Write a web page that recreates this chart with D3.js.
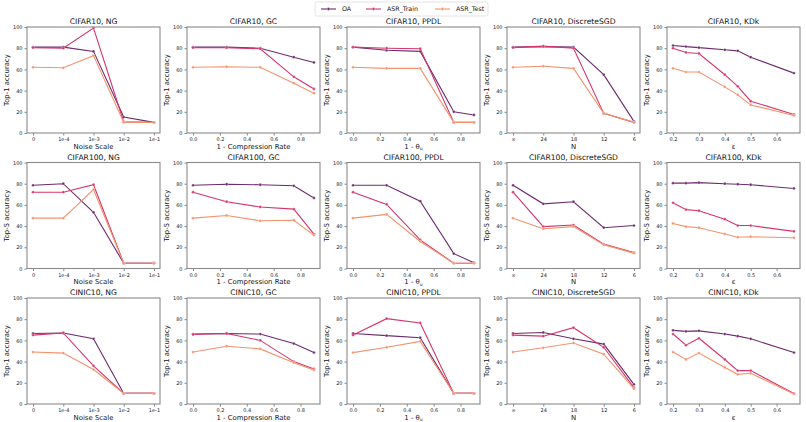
<!DOCTYPE html>
<html><head><meta charset="utf-8">
<script src="https://cdn.jsdelivr.net/npm/d3@7"></script>
<style>body{margin:0;background:#fff} text{font-family:"DejaVu Sans",sans-serif}</style>
</head><body><svg id="c" width="806" height="422"></svg>
<script>
// ---- data ----
const datasets = ["CIFAR10", "CIFAR100", "CINIC10"];
const methods = ["NG", "GC", "PPDL", "DiscreteSGD", "KDk"];
const yLabels = ["Top-1 accuracy", "Top-5 accuracy", "Top-1 accuracy"];
const xLabels = ["Noise Scale", "1 - Compression Rate", "1 - θ|u", "N", "ε"];
const seriesNames = ["OA", "ASR_Train", "ASR_Test"];
const seriesColors = ["#6b2b6c", "#d6346b", "#f4926d"];

const ngX = ["0", "1e-4", "1e-3", "1e-2", "1e-1"];
const gcX = [0, 0.25, 0.5, 0.75, 0.9];
const ppdlX = [0, 0.25, 0.5, 0.75, 0.9];
const sgdX = ["∞", "24", "18", "12", "6"];
const kdkX = [0.2, 0.25, 0.3, 0.4, 0.45, 0.5, 0.667];
const rateTicks = [0, 0.2, 0.4, 0.6, 0.8];
const epsTicks = [0.2, 0.3, 0.4, 0.5, 0.6];
const yTicks = [0, 20, 40, 60, 80, 100];

// per dataset, per method (NG, GC, PPDL, DiscreteSGD, KDk)
const cifar10_OA = [[81, 81, 77, 15, 10], [81, 81, 80, 71.5, 66.5], [81, 78, 77, 20, 17], [81, 81.5, 81, 55, 11], [82.5, 81.5, 80.5, 78.5, 77.5, 71.5, 56.5]];
const cifar10_Train = [[80.5, 80, 99, 10.5, 10], [80.5, 80.5, 79.5, 53, 41.5], [81, 80, 79.5, 10, 10], [80.5, 82, 80, 18.5, 10], [80, 76, 75, 55, 44, 30, 17.5]];
const cifar10_Test = [[62, 61.5, 73, 10, 10], [62, 62.5, 62, 47, 37.5], [62, 61, 61, 10, 10], [62, 63, 61, 18.5, 10], [61, 57.5, 57.5, 43.5, 36, 26.5, 16.5]];

const cifar100_OA = [[78.5, 80, 53, 5, 5], [78.5, 79.5, 79, 78, 66.5], [78.5, 78.5, 63.5, 14, 5.5], [78.5, 61, 63, 38.5, 40.5], [80.5, 80.5, 81, 80, 79.5, 79, 75.5]];
const cifar100_Train = [[72, 72, 79, 5, 5], [72, 63, 58, 56, 32.5], [72, 60.5, 27, 5, 5], [72, 39.5, 41, 23, 15], [62, 55.5, 54.5, 46.5, 40.5, 40.5, 35]];
const cifar100_Test = [[47.5, 47.5, 74.5, 5, 5], [47.5, 50, 45, 45.5, 31.5], [47.5, 51, 25.5, 5, 5], [47.5, 37.5, 39.5, 22.5, 14.5], [42.5, 39.5, 38.5, 32.5, 29.5, 30, 29]];

const cinic10_OA = [[66.5, 67, 61.5, 10, 10], [66, 66.5, 66, 57, 48.5], [66.5, 64.5, 62.5, 10, 10], [66.5, 67.5, 61.5, 56.5, 18.5], [69.5, 68.5, 69, 66, 64, 61.5, 48.5]];
const cinic10_Train = [[65, 67, 36, 10, 10], [65.5, 66.5, 60, 40, 33], [65, 80.5, 76.5, 10, 10], [65, 64, 72, 53.5, 15.5], [66, 55.5, 62, 42, 31.5, 31.5, 10]];
const cinic10_Test = [[49, 48, 32.5, 10, 10], [49, 54.5, 52, 39, 32], [48.5, 53.5, 59, 10, 10], [49, 53, 57.5, 47, 14.5], [49, 42, 48, 34.5, 28, 29, 9.5]];

const allSeries = [
  [cifar10_OA, cifar10_Train, cifar10_Test],
  [cifar100_OA, cifar100_Train, cifar100_Test],
  [cinic10_OA, cinic10_Train, cinic10_Test]
];
const xValues = [ngX, gcX, ppdlX, sgdX, kdkX];
const xTickSets = [ngX, rateTicks, rateTicks, sgdX, epsTicks];

// ---- layout ----
const svg = d3.select("#c");
const W = 133, H = 106;
const colLeft = d3.range(5).map(i => 27 + 160 * i);
const rowTop = d3.range(3).map(j => 27 + 135.5 * j);
const frameColor = "#8a8a8a", tickColor = "#555";

datasets.forEach((ds, r) => {
  methods.forEach((m, c) => {
    const g = svg.append("g").attr("transform", `translate(${colLeft[c]},${rowTop[r]})`);
    const xs = xValues[c];
    const categorical = typeof xs[0] === "string";
    let x;
    if (categorical) {
      x = d3.scalePoint().domain(xs).range([0, W]).padding(0.2);
    } else {
      const [lo, hi] = d3.extent(xs); const pad = (hi - lo) * 0.05;
      x = d3.scaleLinear().domain([lo - pad, hi + pad]).range([0, W]);
    }
    const y = d3.scaleLinear().domain([0, 100]).range([H, 0]);

    // axes
    const xAxis = d3.axisBottom(x).tickSizeOuter(0).tickSize(2.5).tickPadding(2);
    if (categorical) xAxis.tickValues(xs); else xAxis.tickValues(xTickSets[c]).tickFormat(d3.format(".1f"));
    const gx = g.append("g").attr("transform", `translate(0,${H})`).call(xAxis);
    const gy = g.append("g").call(d3.axisLeft(y).tickValues(yTicks).tickSize(2.5).tickPadding(2).tickSizeOuter(0));
    [gx, gy].forEach(a => {
      a.select(".domain").remove();
      a.selectAll("line").attr("stroke", tickColor).attr("stroke-width", 0.7);
      a.selectAll("text").attr("font-size", 5).attr("fill", "#222").attr("font-family", "DejaVu Sans");
    });

    // lines
    allSeries[r].forEach((ser, s) => {
      const vals = ser[c];
      const pts = xs.map((xv, i) => [x(xv), y(vals[i])]);
      g.append("path").attr("d", d3.line()(pts)).attr("fill", "none")
        .attr("stroke", seriesColors[s]).attr("stroke-width", 1.1);
      g.selectAll(null).data(pts).enter().append("circle")
        .attr("cx", d => d[0]).attr("cy", d => d[1]).attr("r", 1.4)
        .attr("fill", seriesColors[s]).attr("stroke", "#fff").attr("stroke-width", 0.3);
    });

    // frame
    g.append("rect").attr("width", W).attr("height", H).attr("fill", "none")
      .attr("stroke", frameColor).attr("stroke-width", 1.1);

    // title
    g.append("text").attr("x", W / 2).attr("y", -3).attr("text-anchor", "middle")
      .attr("font-size", 7.6).attr("fill", "#111").text(`${ds}, ${m}`);
    // x label
    const xl = g.append("text").attr("x", W / 2).attr("y", H + 15.5).attr("text-anchor", "middle")
      .attr("font-size", 6.9).attr("fill", "#111");
    const parts = xLabels[c].split("|");
    xl.append("tspan").text(parts[0]);
    if (parts[1]) xl.append("tspan").attr("font-size", 4.5).attr("dy", 1.5).text(parts[1]);
    // y label
    g.append("text").attr("transform", `translate(-20.5,${H / 2}) rotate(-90)`).attr("text-anchor", "middle")
      .attr("dy", "0.35em").attr("font-size", 6.9).attr("fill", "#111").text(yLabels[r]);
  });
});

// legend
const lg = svg.append("g");
lg.append("rect").attr("x", 315).attr("y", 2).attr("width", 173).attr("height", 14).attr("rx", 2)
  .attr("fill", "#fff").attr("stroke", "#ddd").attr("stroke-width", 0.8);
const legX = [321, 366, 435];
seriesNames.forEach((n, s) => {
  lg.append("line").attr("x1", legX[s]).attr("x2", legX[s] + 15).attr("y1", 9).attr("y2", 9)
    .attr("stroke", seriesColors[s]).attr("stroke-width", 1.1);
  lg.append("circle").attr("cx", legX[s] + 7.5).attr("cy", 9).attr("r", 1.4).attr("fill", seriesColors[s])
    .attr("stroke", "#fff").attr("stroke-width", 0.3);
  lg.append("text").attr("x", legX[s] + 21).attr("y", 11.3).attr("font-size", 6.3).attr("fill", "#111").text(n);
});
</script></body></html>
